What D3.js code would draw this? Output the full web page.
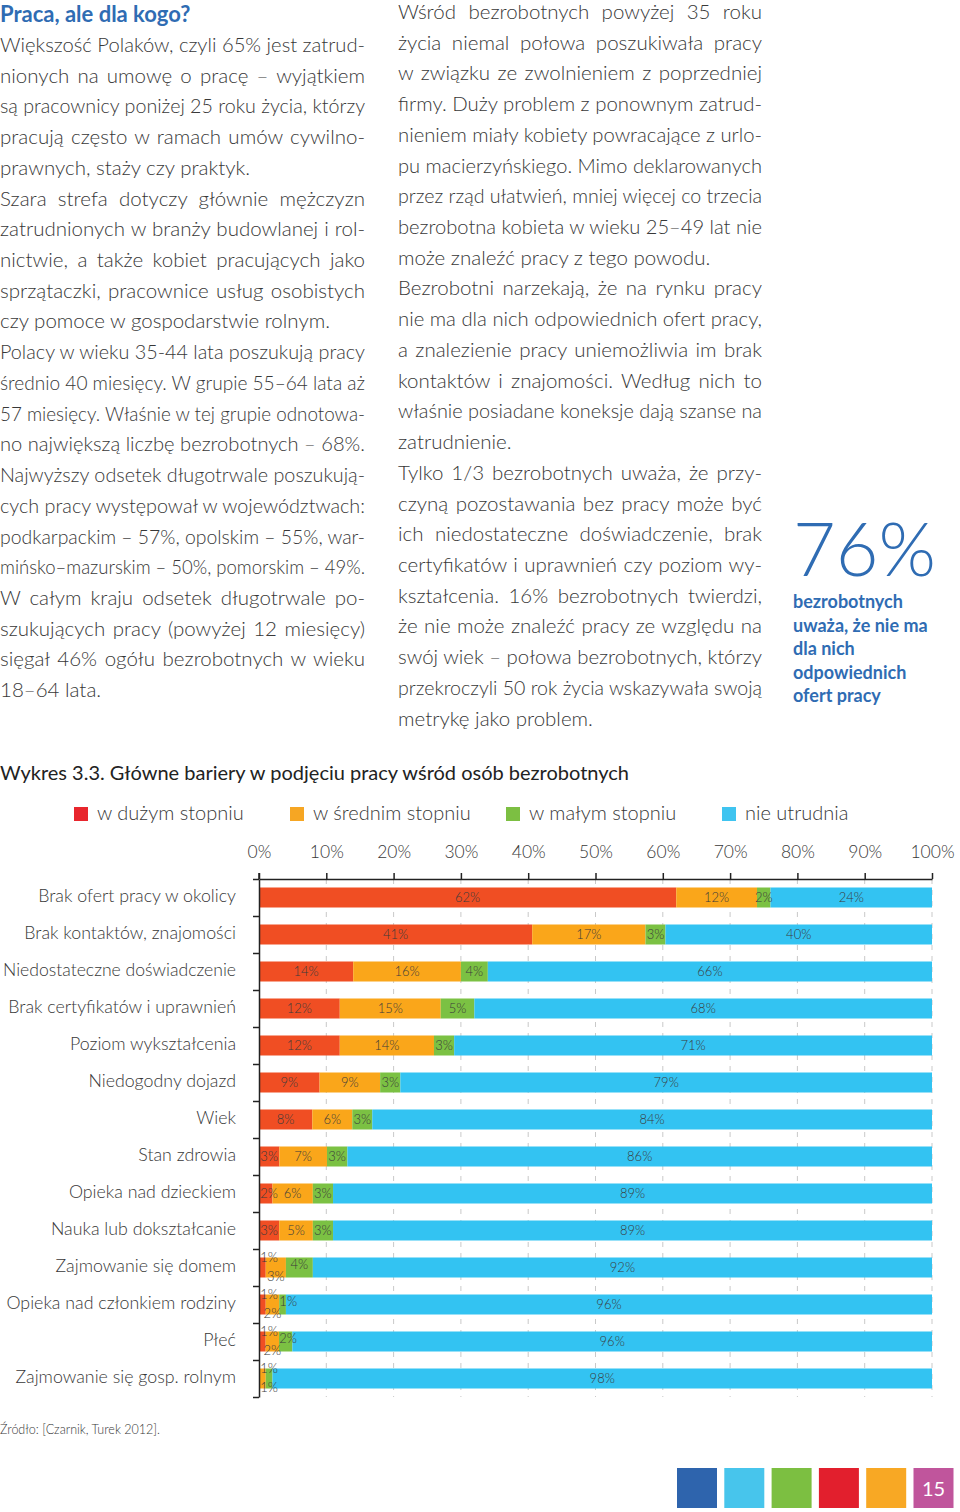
<!DOCTYPE html>
<html><head><meta charset="utf-8">
<script src="https://cdn.jsdelivr.net/npm/d3@7"></script>
<style>
html,body{margin:0;padding:0;background:#fff;}
svg{display:block;font-family:Lato,"Open Sans","Noto Sans",sans-serif;}
</style></head><body>
<svg id="page" width="960" height="1512"></svg>
<script>
// ---------------- DATA ----------------
const categories = [
  "Brak ofert pracy w okolicy",
  "Brak kontaktów, znajomości",
  "Niedostateczne doświadczenie",
  "Brak certyfikatów i uprawnień",
  "Poziom wykształcenia",
  "Niedogodny dojazd",
  "Wiek",
  "Stan zdrowia",
  "Opieka nad dzieckiem",
  "Nauka lub dokształcanie",
  "Zajmowanie się domem",
  "Opieka nad członkiem rodziny",
  "Płeć",
  "Zajmowanie się gosp. rolnym"
];
const seriesNames = ["w dużym stopniu", "w średnim stopniu", "w małym stopniu", "nie utrudnia"];
const wDuzymStopniu   = [62, 41, 14, 12, 12, 9, 8, 3, 2, 3, 1, 1, 1, 0];
const wSrednimStopniu = [12, 17, 16, 15, 14, 9, 6, 7, 6, 5, 3, 2, 2, 1];
const wMalymStopniu   = [2, 3, 4, 5, 3, 3, 3, 3, 3, 3, 4, 1, 2, 1];
const nieUtrudnia     = [24, 40, 66, 68, 71, 79, 84, 86, 89, 89, 92, 96, 96, 98];
const tickValues = [0, 10, 20, 30, 40, 50, 60, 70, 80, 90, 100];
const tickLabels = ["0%", "10%", "20%", "30%", "40%", "50%", "60%", "70%", "80%", "90%", "100%"];

const leftTitle = "Praca, ale dla kogo?";
const leftLines = [
  "Większość Polaków, czyli 65% jest zatrud-",
  "nionych na umowę o pracę – wyjątkiem",
  "są pracownicy poniżej 25 roku życia, którzy",
  "pracują często w ramach umów cywilno-",
  "prawnych, staży czy praktyk.",
  "Szara strefa dotyczy głównie mężczyzn",
  "zatrudnionych w branży budowlanej i rol-",
  "nictwie, a także kobiet pracujących jako",
  "sprzątaczki, pracownice usług osobistych",
  "czy pomoce w gospodarstwie rolnym.",
  "Polacy w wieku 35-44 lata poszukują pracy",
  "średnio 40 miesięcy. W grupie 55–64 lata aż",
  "57 miesięcy. Właśnie w tej grupie odnotowa-",
  "no największą liczbę bezrobotnych – 68%.",
  "Najwyższy odsetek długotrwale poszukują-",
  "cych pracy występował w województwach:",
  "podkarpackim – 57%, opolskim – 55%, war-",
  "mińsko–mazurskim – 50%, pomorskim – 49%.",
  "W całym kraju odsetek długotrwale po-",
  "szukujących pracy (powyżej 12 miesięcy)",
  "sięgał 46% ogółu bezrobotnych w wieku",
  "18–64 lata."
];
const leftParagraphEnds = [4, 9, 21];
const rightLines = [
  "Wśród bezrobotnych powyżej 35 roku",
  "życia niemal połowa poszukiwała pracy",
  "w związku ze zwolnieniem z poprzedniej",
  "firmy. Duży problem z ponownym zatrud-",
  "nieniem miały kobiety powracające z urlo-",
  "pu macierzyńskiego. Mimo deklarowanych",
  "przez rząd ułatwień, mniej więcej co trzecia",
  "bezrobotna kobieta w wieku 25–49 lat nie",
  "może znaleźć pracy z tego powodu.",
  "Bezrobotni narzekają, że na rynku pracy",
  "nie ma dla nich odpowiednich ofert pracy,",
  "a znalezienie pracy uniemożliwia im brak",
  "kontaktów i znajomości. Według nich to",
  "właśnie posiadane koneksje dają szanse na",
  "zatrudnienie.",
  "Tylko 1/3 bezrobotnych uważa, że przy-",
  "czyną pozostawania bez pracy może być",
  "ich niedostateczne doświadczenie, brak",
  "certyfikatów i uprawnień czy poziom wy-",
  "kształcenia. 16% bezrobotnych twierdzi,",
  "że nie może znaleźć pracy ze względu na",
  "swój wiek – połowa bezrobotnych, którzy",
  "przekroczyli 50 rok życia wskazywała swoją",
  "metrykę jako problem."
];
const rightParagraphEnds = [8, 14, 23];
const highlightValue = "76%";
const highlightLines = ["bezrobotnych", "uważa, że nie ma", "dla nich", "odpowiednich", "ofert pracy"];
const chartTitle = "Wykres 3.3. Główne bariery w podjęciu pracy wśród osób bezrobotnych";
const sourceText = "Źródło: [Czarnik, Turek 2012].";
const pageNumber = "15";

// ---------------- STYLE ----------------
const TEXT = "#383838";
const BLUE = "#2f6cb3";
const barColors = ["#f04e23", "#faa61a", "#7bc143", "#33c3f2"];
const legendColors = ["#e8262d", "#f6a623", "#7cbf42", "#3fc4f0"];
const footerColors = ["#2e64ad", "#47c5ec", "#7cbf41", "#e21f2d", "#f8a824", "#c0559c"];

const svg = d3.select("#page");

function addText(parent, s, x, y, o = {}) {
  const t = parent.append("text")
    .attr("x", x).attr("y", y).text(s)
    .attr("font-size", o.size || 19)
    .attr("font-weight", o.weight || 300)
    .attr("fill", o.fill || TEXT)
    .attr("text-anchor", o.anchor || "start");
  if (o.width) {
    const w = t.node().getComputedTextLength();
    const spaces = (s.match(/ /g) || []).length;
    if (o.justify && w < o.width && spaces > 0) {
      t.style("word-spacing", ((o.width - w) / spaces) + "px");
    } else if (w > o.width) {
      t.attr("textLength", o.width).attr("lengthAdjust", "spacingAndGlyphs");
    }
  }
  return t;
}

// ---------------- TEXT COLUMNS ----------------
const LH = 30.72;
const BODY = 20.5;
addText(svg, leftTitle, 0, 22, { size: 22, weight: 700, fill: BLUE, width: 200 });
leftLines.forEach((s, i) => {
  addText(svg, s, 0, 52 + LH * i, { size: BODY, width: 365, justify: !leftParagraphEnds.includes(i) });
});
rightLines.forEach((s, i) => {
  addText(svg, s, 398, 19 + LH * i, { size: BODY, width: 364, justify: !rightParagraphEnds.includes(i) });
});
addText(svg, highlightValue, 793, 576, { size: 74, weight: 300, fill: BLUE, width: 143 });
const hlWidths = [112, 136, 63, 116, 88];
highlightLines.forEach((s, i) => {
  addText(svg, s, 793, 608 + 23.6 * i, { size: 18, weight: 700, fill: BLUE, width: hlWidths[i] });
});

// ---------------- CHART ----------------
addText(svg, chartTitle, 0, 780, { size: 20, weight: 400, fill: "#222", width: 629 });

// legend
const legendX = d3.scaleLinear().domain([0, 1]).range([74, 290]);
const legend = svg.append("g");
seriesNames.forEach((name, i) => {
  const lx = legendX(i);
  legend.append("rect").attr("x", lx).attr("y", 807).attr("width", 14).attr("height", 14).attr("fill", legendColors[i]);
  addText(legend, name, lx + 23, 820, { size: 20 });
});

const x = d3.scaleLinear().domain([0, 100]).range([259, 932]);
const y = d3.scaleBand().domain(categories).range([879, 1397]).paddingInner(17 / 37).paddingOuter(8.5 / 37);
const yEdges = d3.scaleLinear().domain([0, categories.length]).range([879, 1397]);

const rows = categories.map((c, i) => ({
  category: c,
  [seriesNames[0]]: wDuzymStopniu[i],
  [seriesNames[1]]: wSrednimStopniu[i],
  [seriesNames[2]]: wMalymStopniu[i],
  [seriesNames[3]]: nieUtrudnia[i]
}));
const stacked = d3.stack().keys(seriesNames).offset(d3.stackOffsetExpand)(rows);

// grid
svg.append("g").selectAll("line").data(tickValues.slice(1)).join("line")
  .attr("x1", d => x(d)).attr("x2", d => x(d))
  .attr("y1", 879).attr("y2", 1397)
  .attr("stroke", "#c9c9c9").attr("stroke-width", 1).attr("stroke-dasharray", "5,6");

// bars
const xs = d3.scaleLinear().domain([0, 1]).range(x.range());
svg.append("g").selectAll("g").data(stacked).join("g")
  .attr("fill", (d, i) => barColors[i])
  .selectAll("rect").data(d => d).join("rect")
  .attr("x", d => xs(d[0]))
  .attr("width", d => Math.max(0, xs(d[1]) - xs(d[0])))
  .attr("y", d => y(d.data.category))
  .attr("height", y.bandwidth());

// bar labels
const raw = [wDuzymStopniu, wSrednimStopniu, wMalymStopniu, nieUtrudnia];
const labels = svg.append("g");
stacked.forEach((layer, li) => {
  layer.forEach((seg, ri) => {
    const v = raw[li][ri];
    if (v === 0) return;
    let cx = (xs(seg[0]) + xs(seg[1])) / 2;
    const cy = y(categories[ri]) + y.bandwidth() / 2;
    let dy = 0;
    const crowded = raw[0][ri] <= 1;
    if (crowded) {
      if (li === 1) dy = 9;
      else if (li === 0 || (li === 2 && v <= 1 && raw[0][ri] === 0)) dy = -10;
      else if (li === 2) { dy = -3; cx = Math.max(cx, xs(seg[0]) + 9); }
    }
    cx = Math.max(cx, x(0) + 10);
    labels.append("text").attr("x", cx).attr("y", cy + dy + 4.5)
      .attr("text-anchor", "middle").attr("font-size", 13).attr("font-weight", 300)
      .attr("fill", "#3b3b3b").text(v + "%");
  });
});

// top axis
const axisTop = d3.axisTop(x).tickValues(tickValues).tickFormat((d, i) => tickLabels[i])
  .tickSizeInner(6).tickSizeOuter(0).tickPadding(15);
const gx = svg.append("g").attr("transform", "translate(0,879)").call(axisTop);
gx.select(".domain").attr("stroke", "#222").attr("stroke-width", 1.5);
gx.selectAll(".tick line").attr("stroke", "#222").attr("stroke-width", 1.5);
gx.selectAll(".tick text").attr("font-family", "Lato, 'Open Sans', sans-serif")
  .attr("font-size", 17.5).attr("font-weight", 300).attr("fill", TEXT);

// left axis
const axisLeft = d3.axisLeft(yEdges).tickValues(d3.range(categories.length + 1)).tickFormat("")
  .tickSizeInner(6).tickSizeOuter(0);
const gy = svg.append("g").attr("transform", "translate(259,0)").call(axisLeft);
gy.select(".domain").attr("stroke", "#222").attr("stroke-width", 1.5);
gy.selectAll(".tick line").attr("stroke", "#222").attr("stroke-width", 1.5);
svg.append("line").attr("x1", 259).attr("x2", 259).attr("y1", 873).attr("y2", 879)
  .attr("stroke", "#222").attr("stroke-width", 1.5);

// category labels
categories.forEach(c => {
  addText(svg, c, 236, y(c) + y.bandwidth() / 2 + 4, { size: 17.8, anchor: "end", width: 233 });
});

// source
addText(svg, sourceText, 0, 1434, { size: 13, width: 160 });

// footer squares
const fx = d3.scaleLinear().domain([0, 1]).range([677, 724.3]);
footerColors.forEach((c, i) => {
  svg.append("rect").attr("x", fx(i)).attr("y", 1468).attr("width", 40).attr("height", 40).attr("fill", c);
});
addText(svg, pageNumber, fx(5) + 20, 1496, { size: 20, weight: 400, fill: "#fff", anchor: "middle" });
</script>
</body></html>
